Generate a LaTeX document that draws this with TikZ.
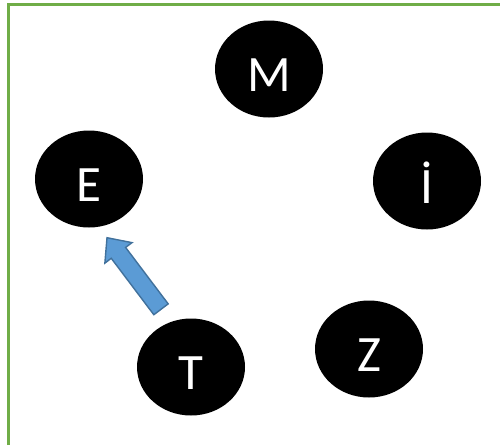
\documentclass[tikz,border=0pt]{standalone}
\usepackage{fontspec}
\setmainfont{Carlito}
\usetikzlibrary{shapes.geometric,calc}

\definecolor{framegreen}{HTML}{70AD47}
\definecolor{arrowfill}{HTML}{5B9BD5}
\definecolor{arrowline}{HTML}{41719C}

\begin{document}
\begin{tikzpicture}[x=1pt,y=-1pt]
\tikzstyle{disc} = [ellipse, fill=black, text=white, minimum width=108pt, minimum height=97pt, inner sep=0, font=\fontsize{51}{51}\selectfont, text height=45pt, text depth=0pt]
\useasboundingbox (0,0) rectangle (500,445);

% Cornice verde (solo lato sinistro e alto)
\draw[framegreen, line width=3pt] (8,445) -- (8,4) -- (500,4);

% Dischi con le lettere
\foreach \name/\x/\y/\txt in {M/269/69/M, I/427/181/{İ}, Z/369/349/Z, T/191/367/T, E/89/179/E} {
  \node[disc] (\name) at (\x,\y) {\txt};
}

% Freccia larga da T verso E
\coordinate (tail) at ($(T.north)+(-30,-9)$);
\coordinate (tip) at ($(E.south)+(18,10)$);
\coordinate (hb) at ($(tip)!19pt!(tail)$);
\draw[arrowline, fill=arrowfill, line width=1.4pt, line join=miter]
  ($(tail)!9pt!90:(tip)$) -- ($(hb)!9pt!-90:(tail)$) -- ($(hb)!17pt!-90:(tail)$)
  -- (tip) -- ($(hb)!17pt!90:(tail)$) -- ($(hb)!9pt!90:(tail)$)
  -- ($(tail)!9pt!-90:(tip)$) -- cycle;

\end{tikzpicture}
\end{document}
